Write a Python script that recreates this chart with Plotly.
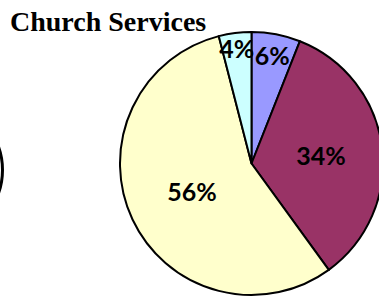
import plotly.graph_objects as go

labels = ["Cat A", "Cat B", "Cat C", "Cat D"]
values = [6, 34, 56, 4]
colors = ["#9999FF", "#993366", "#FFFFCC", "#CCFFFF"]
title_text = "Church Services"

W, H = 390, 298
L, T, D = 120, 32, 263
fig = go.Figure(go.Pie(
    labels=labels, values=values, sort=False, direction="clockwise", rotation=0,
    marker=dict(colors=colors, line=dict(color="black", width=2)),
    texttemplate="%{percent:.0%}", textposition="inside", insidetextorientation="horizontal",
    textfont=dict(family="Lato", size=25, color="black", weight="bold"),
    showlegend=False, hoverinfo="skip",
))
fig.update_layout(
    width=W, height=H,
    margin=dict(l=L, r=W - L - D, t=T, b=H - T - D),
    paper_bgcolor="white", plot_bgcolor="white",
    title=dict(text="<b>" + title_text + "</b>", x=10 / W, xanchor="left", xref="container",
               y=1 - 11 / H, yanchor="top", yref="container",
               font=dict(family="Liberation Serif", size=28, color="black")),
    uniformtext=dict(minsize=25, mode="show"),
)
# partial neighbouring circle edge at the far left
fig.add_shape(type="circle", xref="paper", yref="paper",
              x0=(-130.5 - L) / D, x1=(2.5 - L) / D,
              y0=1 - (236.5 - T) / D, y1=1 - (103.5 - T) / D,
              line=dict(color="black", width=3), layer="above")
fig.write_html("out.html", config={"displayModeBar": False},
               post_script="document.body.style.overflow='hidden';document.body.style.margin='0';")
